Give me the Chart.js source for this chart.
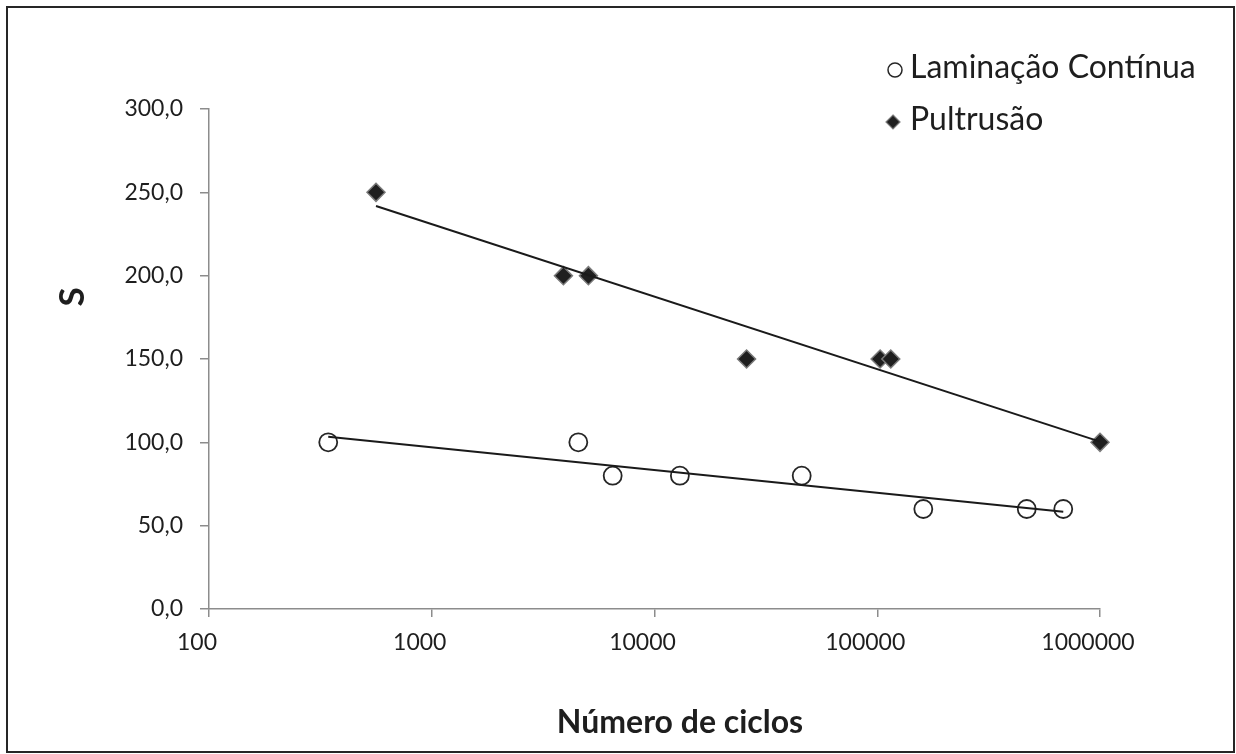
<!DOCTYPE html>
<html lang="pt">
<head>
    <meta charset="UTF-8">
    <title>S x Número de ciclos</title>
    <script src="https://cdn.jsdelivr.net/npm/chart.js"></script>
    <style>
        body {
            margin: 0;
            background: #fff;
            overflow: hidden;
        }
        .chart-box {
            position: relative;
            width: 1236px;
            height: 754px;
        }
    </style>
</head>
<body>
    <div class="chart-box">
        <canvas id="fadigaChart"></canvas>
    </div>

    <script>
        // Laminação contínua: ciclos até a ruptura x tensão S
        const laminacaoCiclos = [343, 4550, 6490, 13000, 45800, 161000, 469000, 684000];
        const laminacaoS = [100, 100, 80, 80, 80, 60, 60, 60];

        // Pultrusão
        const pultrusaoCiclos = [562, 3900, 5050, 25900, 103000, 115000, 1000000];
        const pultrusaoS = [250, 200, 200, 150, 150, 150, 100];

        // Extremos das linhas de tendência (logarítmicas)
        const tendLaminacaoCiclos = [343, 684000];
        const tendLaminacaoS = [103.4, 58.4];
        const tendPultrusaoCiclos = [562, 1000000];
        const tendPultrusaoS = [241.8, 100.4];

        const ticksX = [100, 1000, 10000, 100000, 1000000];
        const ticksY = [0, 50, 100, 150, 200, 250, 300];

        const FONT = 'Lato, "Liberation Sans", sans-serif';
        const TEXT = '#1e1e1e';
        const AXIS = '#8c8c8c';

        const pares = (xs, ys) => xs.map((x, i) => ({ x: x, y: ys[i] }));

        // Moldura externa do gráfico
        const moldura = {
            id: 'moldura',
            afterDraw(chart) {
                const ctx = chart.ctx;
                ctx.save();
                ctx.strokeStyle = '#262626';
                ctx.lineWidth = 2;
                ctx.strokeRect(7, 7, 1227, 745);
                ctx.restore();
            }
        };

        // Títulos dos eixos
        const titulos = {
            id: 'titulos',
            afterDraw(chart) {
                const ctx = chart.ctx;
                ctx.save();
                ctx.fillStyle = TEXT;
                ctx.font = 'bold 32px ' + FONT;
                ctx.textAlign = 'center';
                ctx.textBaseline = 'alphabetic';
                ctx.fillText('Número de ciclos', 680, 733);

                ctx.translate(84, 297);
                ctx.rotate(-Math.PI / 2);
                ctx.font = 'bold 35px ' + FONT;
                ctx.fillText('S', 0, 0);
                ctx.restore();
            }
        };

        // Legenda no canto superior direito
        const legenda = {
            id: 'legenda',
            afterDraw(chart) {
                const ctx = chart.ctx;
                const ds = chart.data.datasets;
                ctx.save();
                ctx.font = '32px ' + FONT;
                ctx.textAlign = 'left';
                ctx.textBaseline = 'alphabetic';

                // círculo
                ctx.beginPath();
                ctx.arc(895, 70, 7, 0, Math.PI * 2);
                ctx.fillStyle = '#fff';
                ctx.fill();
                ctx.strokeStyle = '#262626';
                ctx.lineWidth = 1.5;
                ctx.stroke();
                ctx.fillStyle = TEXT;
                ctx.fillText(ds[0].label, 910, 78);

                // losango
                ctx.beginPath();
                ctx.moveTo(893, 115);
                ctx.lineTo(900, 122);
                ctx.lineTo(893, 129);
                ctx.lineTo(886, 122);
                ctx.closePath();
                ctx.fillStyle = '#1f1f1f';
                ctx.fill();
                ctx.strokeStyle = '#7a7a7a';
                ctx.lineWidth = 1.2;
                ctx.stroke();
                ctx.fillStyle = TEXT;
                ctx.fillText(ds[1].label, 910, 130);
                ctx.restore();
            }
        };

        new Chart(document.getElementById('fadigaChart'), {
            type: 'scatter',
            data: {
                datasets: [
                    {
                        label: 'Laminação Contínua',
                        data: pares(laminacaoCiclos, laminacaoS),
                        pointStyle: 'circle',
                        pointRadius: 9,
                        backgroundColor: '#fff',
                        borderColor: '#262626',
                        borderWidth: 1.8,
                        clip: false,
                        order: 2
                    },
                    {
                        label: 'Pultrusão',
                        data: pares(pultrusaoCiclos, pultrusaoS),
                        pointStyle: 'rectRot',
                        pointRadius: 9,
                        backgroundColor: '#1f1f1f',
                        borderColor: '#7a7a7a',
                        borderWidth: 1.5,
                        clip: false,
                        order: 2
                    },
                    {
                        label: 'Tendência laminação',
                        data: pares(tendLaminacaoCiclos, tendLaminacaoS),
                        showLine: true,
                        pointRadius: 0,
                        borderColor: '#1a1a1a',
                        borderWidth: 2,
                        clip: false,
                        order: 1
                    },
                    {
                        label: 'Tendência pultrusão',
                        data: pares(tendPultrusaoCiclos, tendPultrusaoS),
                        showLine: true,
                        pointRadius: 0,
                        borderColor: '#1a1a1a',
                        borderWidth: 2,
                        clip: false,
                        order: 1
                    }
                ]
            },
            options: {
                responsive: true,
                maintainAspectRatio: false,
                animation: false,
                layout: {
                    padding: { top: 109, right: 136, left: 0, bottom: 0 }
                },
                plugins: {
                    legend: { display: false },
                    tooltip: { enabled: false }
                },
                scales: {
                    x: {
                        type: 'logarithmic',
                        min: 100,
                        max: 1000000,
                        afterBuildTicks: (scale) => {
                            scale.ticks = ticksX.map(v => ({ value: v }));
                        },
                        afterFit: (scale) => { scale.height = 145; },
                        ticks: {
                            callback: (v) => String(v),
                            color: TEXT,
                            font: { family: FONT, size: 23 },
                            padding: 12,
                            labelOffset: -12,
                            maxRotation: 0,
                            autoSkip: false
                        },
                        grid: {
                            drawOnChartArea: false,
                            drawTicks: true,
                            tickLength: 8,
                            color: AXIS,
                            lineWidth: 1.5
                        },
                        border: { color: AXIS, width: 1.5 }
                    },
                    y: {
                        min: 0,
                        max: 300,
                        afterBuildTicks: (scale) => {
                            scale.ticks = ticksY.map(v => ({ value: v }));
                        },
                        afterFit: (scale) => { scale.width = 209; },
                        ticks: {
                            callback: (v) => v.toFixed(1).replace('.', ','),
                            color: TEXT,
                            font: { family: FONT, size: 23 },
                            padding: 17
                        },
                        grid: {
                            drawOnChartArea: false,
                            drawTicks: true,
                            tickLength: 9,
                            color: AXIS,
                            lineWidth: 1.5
                        },
                        border: { color: AXIS, width: 1.5 }
                    }
                }
            },
            plugins: [moldura, titulos, legenda]
        });
    </script>
</body>
</html>
